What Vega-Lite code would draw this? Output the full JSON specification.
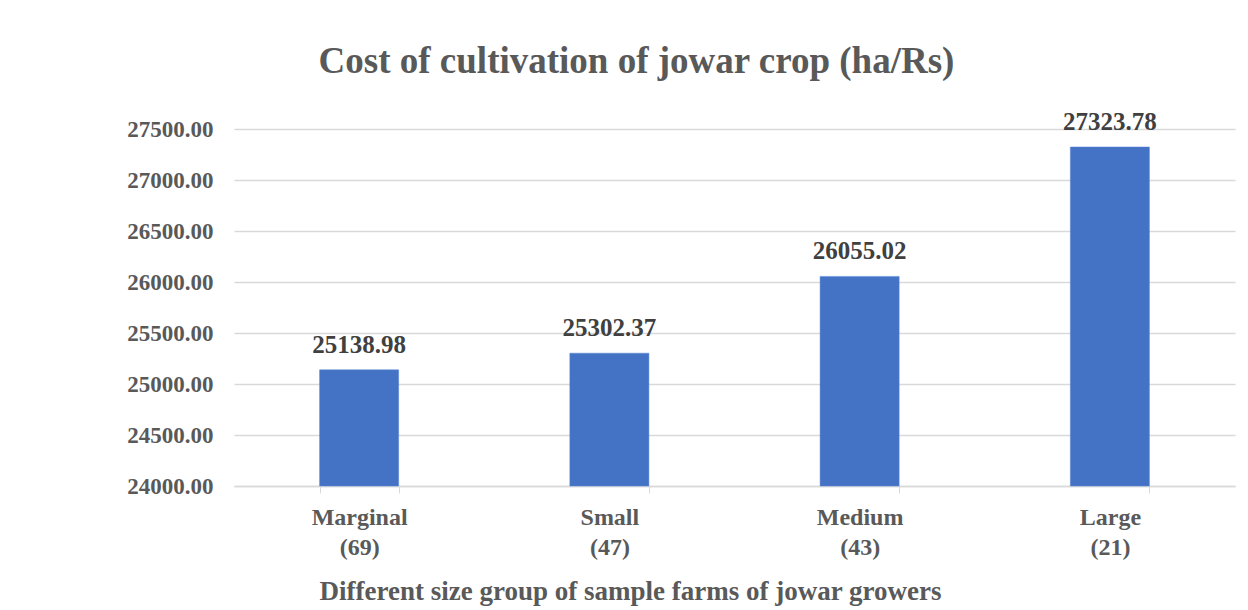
{
  "$schema": "https://vega.github.io/schema/vega-lite/v6.json",
  "autosize": {"type": "none"},
  "padding": {"left": 234, "top": 129, "right": 13, "bottom": 124},
  "width": 1001,
  "height": 357,
  "background": "white",
  "title": {
    "text": "Cost of cultivation of jowar crop (ha/Rs)",
    "font": "Liberation Serif",
    "fontSize": 37,
    "fontWeight": "bold",
    "color": "#595959",
    "anchor": "middle",
    "dx": -98,
    "offset": 29
  },
  "data": {
    "values": [
      {"group": "Marginal|(69)", "cost": 25138.98},
      {"group": "Small|(47)", "cost": 25302.37},
      {"group": "Medium|(43)", "cost": 26055.02},
      {"group": "Large|(21)", "cost": 27323.78}
    ]
  },
  "config": {
    "view": {"stroke": null},
    "axis": {
      "labelFont": "Liberation Serif",
      "titleFont": "Liberation Serif",
      "labelColor": "#595959",
      "titleColor": "#595959",
      "labelFontWeight": "bold",
      "titleFontWeight": "bold"
    }
  },
  "encoding": {
    "x": {
      "field": "group",
      "type": "nominal",
      "sort": null,
      "scale": {"paddingInner": 0.684, "paddingOuter": 0.342},
      "axis": {
        "title": "Different size group of sample farms of jowar growers",
        "titleFontSize": 27,
        "titleX": 396,
        "titleY": 92,
        "titleAnchor": "middle",
        "labelExpr": "isString(datum.value) ? split(datum.value, '|') : ''",
        "labelAngle": 0,
        "labelFontSize": 24,
        "labelLineHeight": 30,
        "labelPadding": 12,
        "domainColor": "#d9d9d9",
        "domainWidth": 1.5,
        "tickColor": "#d9d9d9",
        "tickBand": "extent",
        "tickSize": 7,
        "grid": false
      }
    },
    "y": {
      "field": "cost",
      "type": "quantitative",
      "scale": {"domain": [24000, 27500], "zero": false, "nice": false},
      "axis": {
        "title": null,
        "values": [24000, 24500, 25000, 25500, 26000, 26500, 27000, 27500],
        "format": ".2f",
        "labelFontSize": 23,
        "labelPadding": 21,
        "domain": false,
        "ticks": false,
        "gridColor": "#d9d9d9",
        "gridWidth": 1.5
      }
    }
  },
  "layer": [
    {"mark": {"type": "bar", "color": "#4472C4", "stroke": "#5b86d6", "strokeWidth": 0.5}, "encoding": {"y2": {"datum": 24000}}},
    {
      "mark": {"type": "text", "baseline": "alphabetic", "dy": -17, "font": "Liberation Serif", "fontSize": 25, "fontWeight": "bold", "color": "#404040"},
      "encoding": {"text": {"field": "cost", "type": "quantitative", "format": ".2f"}}
    }
  ]
}
